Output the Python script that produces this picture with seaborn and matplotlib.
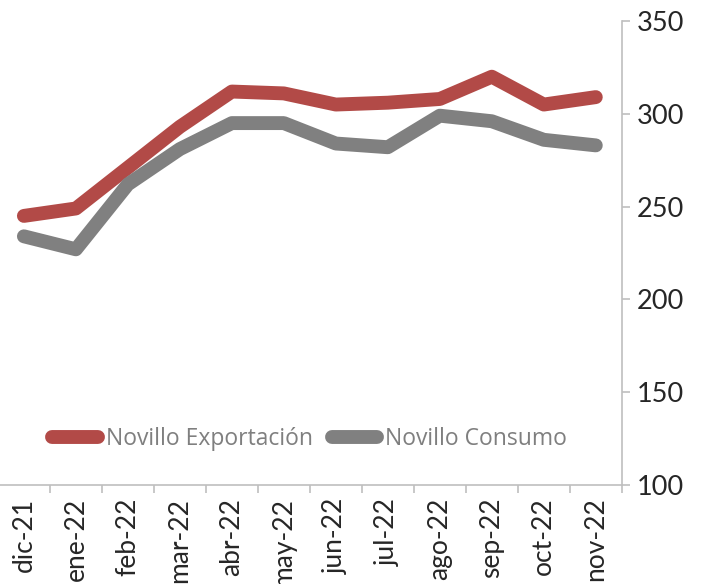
import pandas as pd
import seaborn as sns
from matplotlib import pyplot as plt
from matplotlib.ticker import FixedLocator

# Data
months = ['dic-21', 'ene-22', 'feb-22', 'mar-22', 'abr-22', 'may-22',
          'jun-22', 'jul-22', 'ago-22', 'sep-22', 'oct-22', 'nov-22']
exportacion = [245, 249, 271, 293, 312, 311, 305, 306, 308, 320, 305, 309]
consumo = [234, 227, 262, 281, 295, 295, 284, 282, 299, 296, 286, 283]
series_names = ['Novillo Exportación', 'Novillo Consumo']
colors = ['#B24A47', '#808080']

df = pd.DataFrame({
    'pos': list(range(len(months))) * 2,
    'mes': months * 2,
    'valor': exportacion + consumo,
    'serie': [series_names[0]] * len(months) + [series_names[1]] * len(months),
})

sns.set_style('white')
plt.rcParams['font.family'] = ['Lato', 'DejaVu Sans']

fig = plt.figure(figsize=(7.01, 5.84), dpi=100)
ax = fig.add_axes([-0.003, 0.1695, 0.890, 0.7945])

sns.lineplot(data=df, x='pos', y='valor', hue='serie', palette=colors,
             linewidth=10, sort=False, ax=ax, legend=False,
             solid_capstyle='round', solid_joinstyle='round')

ax.set_xlim(-0.5, len(months) - 0.5)
ax.set_ylim(100, 350)
ax.set_xlabel('')
ax.set_ylabel('')

# x axis: labels at centres, tick marks between categories
ax.set_xticks(range(len(months)))
ax.set_xticklabels(months, rotation=90, fontsize=19)
ax.xaxis.set_minor_locator(FixedLocator([i - 0.5 for i in range(len(months) + 1)]))
ax.tick_params(axis='x', which='major', length=0, pad=9)
ax.tick_params(axis='x', which='minor', length=6, width=1.2, color='#BFBFBF',
               direction='out', bottom=True)

# y axis on the right
ax.yaxis.tick_right()
ax.set_yticks([100, 150, 200, 250, 300, 350])
ax.tick_params(axis='y', labelsize=19.5, length=6, width=1.2, color='#BFBFBF',
               direction='out', pad=5)

for side in ['left', 'top']:
    ax.spines[side].set_visible(False)
for side in ['right', 'bottom']:
    ax.spines[side].set_color('#BFBFBF')
    ax.spines[side].set_linewidth(1.2)

handles = [plt.Line2D([], [], color=c, linewidth=10, solid_capstyle='round')
           for c in colors]
leg = ax.legend(handles, series_names, loc='center', bbox_to_anchor=(0.5, 0.099),
                ncol=2, frameon=False, handlelength=2.0, handletextpad=0.35,
                columnspacing=0.8, prop={'family': 'Open Sans', 'size': 16.5})
for t in leg.get_texts():
    t.set_color('#7F7F7F')

fig.savefig('out.png', dpi=100)
